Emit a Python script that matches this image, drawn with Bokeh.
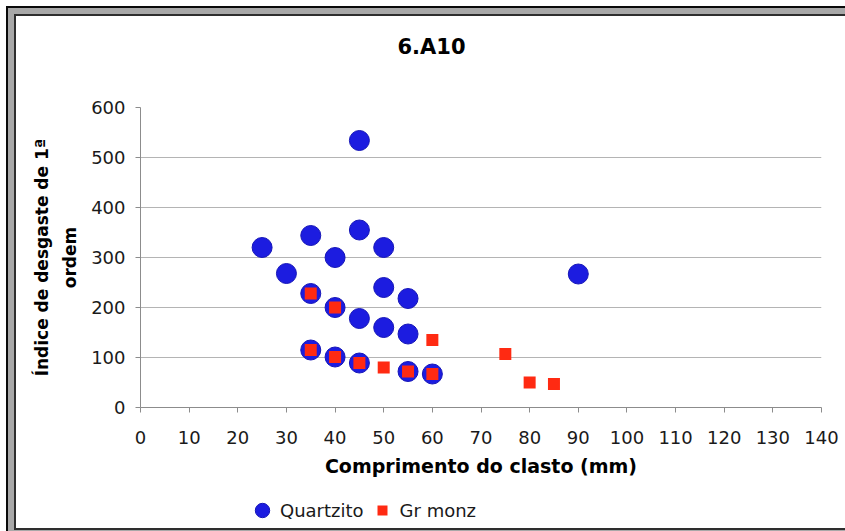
from bokeh.plotting import figure
from bokeh.models import Range1d, SingleIntervalTicker, Legend, LegendItem, Label
from bokeh.layouts import column
from bokeh.embed import file_html
from bokeh.resources import INLINE

# ---- data ----
title_text = "6.A10"
x_label = "Comprimento do clasto (mm)"
y_label = "Índice de desgaste de 1ª\nordem"
series_names = ["Quartzito", "Gr monz"]

quartzito_x = [25, 30, 35, 35, 35, 40, 40, 40, 45, 45, 45, 45, 50, 50, 50, 55, 55, 55, 60, 90]
quartzito_y = [320, 268, 344, 228, 115, 300, 200, 101, 534, 355, 178, 89, 320, 240, 160, 218, 147, 72, 67, 267]

grmonz_x = [35, 35, 40, 40, 45, 50, 55, 60, 60, 75, 80, 85]
grmonz_y = [228, 115, 200, 101, 89, 80, 72, 67, 135, 107, 50, 47]

BLUE_FILL, BLUE_LINE, RED = "#1c1ce0", "#1616b8", "#ff2a12"
W = 829

# ---- title strip ----
tfig = figure(width=W, height=60, output_backend="svg", toolbar_location=None,
              x_range=Range1d(0, 1), y_range=Range1d(0, 1),
              x_axis_type=None, y_axis_type=None,
              min_border=0, min_border_left=0, min_border_right=0,
              min_border_top=0, min_border_bottom=0)
tfig.outline_line_color = None
tfig.border_fill_color = "white"
tfig.background_fill_color = "white"
tfig.add_layout(Label(x=291, y=30, x_units="screen", y_units="screen",
                      text=title_text, text_align="center", text_baseline="middle",
                      text_font="DejaVu Sans", text_font_style="bold",
                      text_font_size="21px", text_color="#000000"))

# ---- main plot ----
p = figure(width=W, height=410, output_backend="svg", toolbar_location=None,
           x_range=Range1d(0, 140), y_range=Range1d(0, 600),
           min_border_left=124, min_border_right=24,
           min_border_top=31, min_border_bottom=79)
p.outline_line_color = None
p.background_fill_color = "white"
p.border_fill_color = "white"

p.xgrid.grid_line_color = None
p.ygrid.grid_line_color = "#b4b4b4"
p.ygrid.grid_line_width = 1

for ax in (p.xaxis[0], p.yaxis[0]):
    ax.axis_line_color = "#8c8c8c"
    ax.axis_line_width = 1
    ax.major_tick_line_color = "#8c8c8c"
    ax.major_tick_in = 0
    ax.major_tick_out = 5
    ax.minor_tick_line_color = None
    ax.major_label_text_font = "DejaVu Sans"
    ax.major_label_text_font_size = "18px"
    ax.major_label_text_color = "#1a1a1a"
    ax.axis_label_text_font = "DejaVu Sans"
    ax.axis_label_text_font_style = "bold"
    ax.axis_label_text_color = "#000000"

p.xaxis[0].ticker = SingleIntervalTicker(interval=10)
p.yaxis[0].ticker = SingleIntervalTicker(interval=100)
p.xaxis[0].major_label_standoff = 18
p.yaxis[0].major_label_standoff = 10
p.xaxis[0].axis_label = x_label
p.xaxis[0].axis_label_text_font_size = "19px"
p.xaxis[0].axis_label_standoff = 8
p.yaxis[0].axis_label = y_label
p.yaxis[0].axis_label_text_font_size = "17px"
p.yaxis[0].axis_label_text_line_height = 1.4
p.yaxis[0].axis_label_standoff = 8

p.scatter(quartzito_x, quartzito_y, marker="circle", size=20,
          fill_color=BLUE_FILL, line_color=BLUE_LINE, line_width=1)
p.scatter(grmonz_x, grmonz_y, marker="square", size=12,
          fill_color=RED, line_color=None)

# ---- legend strip (its renderers hold the same data, clipped out of view) ----
lfig = figure(width=W, height=42, output_backend="svg", toolbar_location=None,
              x_range=Range1d(0, 1), y_range=Range1d(0, 1),
              x_axis_type=None, y_axis_type=None,
              min_border=0, min_border_left=0, min_border_right=0,
              min_border_top=0, min_border_bottom=0)
lfig.outline_line_color = None
lfig.border_fill_color = "white"
lfig.background_fill_color = "white"
lq = lfig.scatter(quartzito_x, quartzito_y, marker="circle", size=20,
                  fill_color=BLUE_FILL, line_color=BLUE_LINE, line_width=1)
lg = lfig.scatter(grmonz_x, grmonz_y, marker="square", size=12,
                  fill_color=RED, line_color="white", line_width=4.4)
legend = Legend(items=[LegendItem(label=series_names[0], renderers=[lq]),
                       LegendItem(label=series_names[1], renderers=[lg])],
                location=(104, 0), orientation="horizontal",
                glyph_width=36, glyph_height=36, label_standoff=0,
                padding=0, margin=0, spacing=0,
                border_line_color=None, background_fill_alpha=0,
                label_text_font="DejaVu Sans", label_text_font_size="18px",
                label_text_color="#1a1a1a")
lfig.add_layout(legend, "center")

layout = column(tfig, p, lfig, spacing=0)
layout.margin = (14, 0, 0, 14)
layout.styles = {
    "border-left": "2px solid #2e2e2e",
    "border-top": "2px solid #2e2e2e",
    "border-bottom": "2px solid #2e2e2e",
    "box-shadow": "0 0 0 6px #a8a8a8, 0 0 0 8px #0a0a0a",
    "background-color": "white",
}

open("out.html", "w").write(file_html(layout, INLINE))
